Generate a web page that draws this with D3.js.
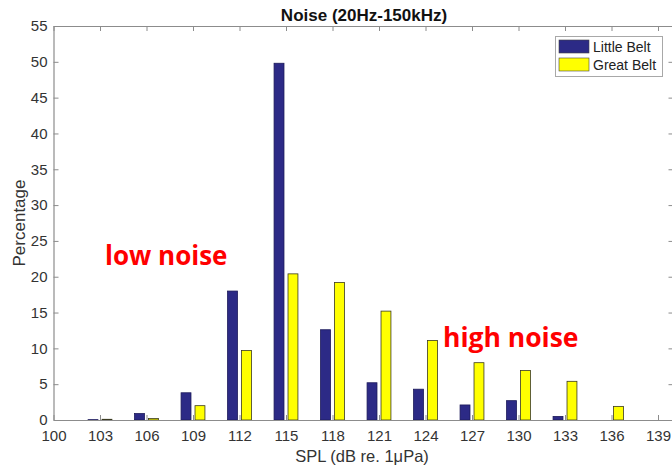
<!DOCTYPE html>
<html>
<head>
<meta charset="utf-8">
<script src="https://cdn.jsdelivr.net/npm/d3@7"></script>
<style>
  html, body { margin: 0; padding: 0; background: #fff; }
  svg { display: block; }
  text { font-family: "Liberation Sans", Arial, Helvetica, sans-serif; }
</style>
</head>
<body>
<svg id="chart" width="672" height="469"></svg>
<script>
// SPL bins (dB re. 1 µPa) and percentage of time in each bin
const splBins = [103, 106, 109, 112, 115, 118, 121, 124, 127, 130, 133, 136, 139];
const littleBelt = [0.05, 0.9, 3.8, 18.0, 49.8, 12.6, 5.2, 4.3, 2.1, 2.7, 0.5, 0, 0];
const greatBelt  = [0.1, 0.2, 2.0, 9.7, 20.4, 19.2, 15.2, 11.1, 8.0, 6.9, 5.4, 1.9, 0];
const seriesNames = ["Little Belt", "Great Belt"];
const seriesColors = ["#2c2a86", "#ffff00"];
const xTicks = [100, 103, 106, 109, 112, 115, 118, 121, 124, 127, 130, 133, 136, 139];
const yTicks = [0, 5, 10, 15, 20, 25, 30, 35, 40, 45, 50, 55];

const svg = d3.select("#chart");
const plotLeft = 53.5, plotRight = 673.5, plotTop = 26, plotBottom = 420;

const x = d3.scaleLinear().domain([100, 140]).range([plotLeft, plotRight]);
const y = d3.scaleLinear().domain([0, 55]).range([plotBottom, plotTop]);

const axisColor = "#8c8c8c";
const labelColor = "#333";

// bars: one pair per SPL bin, offsets in data units
const barOffsets = [[-0.77, -0.13], [0.13, 0.77]];
[littleBelt, greatBelt].forEach((vals, si) => {
  svg.append("g")
    .selectAll("rect")
    .data(splBins.map((b, i) => ({ b, v: vals[i] })))
    .join("rect")
    .attr("x", d => x(d.b + barOffsets[si][0]))
    .attr("width", d => x(d.b + barOffsets[si][1]) - x(d.b + barOffsets[si][0]))
    .attr("y", d => y(d.v))
    .attr("height", d => y(0) - y(d.v))
    .attr("fill", seriesColors[si])
    .attr("stroke", si === 0 ? "#1c1a5a" : "#3a3a20")
    .attr("stroke-width", 0.8);
});

// axes with inward ticks on all four sides
function styleAxis(g) {
  g.selectAll(".domain").attr("stroke", axisColor).attr("stroke-width", 1.2);
  g.selectAll(".tick line").attr("stroke", axisColor);
  g.selectAll(".tick text").attr("fill", labelColor).style("font-size", "15px");
}

svg.append("g")
  .attr("transform", `translate(0,${plotBottom})`)
  .call(d3.axisBottom(x).tickValues(xTicks).tickSizeInner(-5).tickSizeOuter(0).tickPadding(10.5))
  .call(styleAxis);

svg.append("g")
  .attr("transform", `translate(0,${plotTop})`)
  .call(d3.axisTop(x).tickValues(xTicks).tickSizeInner(-5).tickSizeOuter(0).tickFormat(""))
  .call(styleAxis);

svg.append("g")
  .attr("transform", `translate(${plotLeft},0)`)
  .call(d3.axisLeft(y).tickValues(yTicks).tickSizeInner(-5).tickSizeOuter(0).tickPadding(6))
  .call(styleAxis);

svg.append("g")
  .attr("transform", `translate(${plotRight},0)`)
  .call(d3.axisRight(y).tickValues(yTicks).tickSizeInner(-5).tickSizeOuter(0).tickFormat(""))
  .call(styleAxis);

// title and axis labels
svg.append("text")
  .attr("x", 364).attr("y", 21)
  .attr("text-anchor", "middle")
  .style("font-size", "17px").style("font-weight", "bold")
  .attr("fill", "#111")
  .text("Noise (20Hz-150kHz)");

svg.append("text")
  .attr("x", 362).attr("y", 462)
  .attr("text-anchor", "middle")
  .style("font-size", "16.5px")
  .attr("fill", labelColor)
  .text("SPL (dB re. 1\u03bcPa)");

svg.append("text")
  .attr("transform", `translate(25,${(plotTop + plotBottom) / 2}) rotate(-90)`)
  .attr("text-anchor", "middle")
  .style("font-size", "17px")
  .attr("fill", labelColor)
  .text("Percentage");

// legend
const legend = svg.append("g");
legend.append("rect")
  .attr("x", 555.5).attr("y", 36.5).attr("width", 107).attr("height", 40)
  .attr("fill", "#fff").attr("stroke", "#a8a8a8");
seriesNames.forEach((name, i) => {
  legend.append("rect")
    .attr("x", 559).attr("y", 40 + i * 18).attr("width", 30).attr("height", 13)
    .attr("fill", seriesColors[i]).attr("stroke", "#444").attr("stroke-width", 0.6);
  legend.append("text")
    .attr("x", 593).attr("y", 52 + i * 18)
    .style("font-size", "14px")
    .attr("fill", "#222")
    .text(name);
});

// annotations
svg.append("text")
  .attr("x", 105).attr("y", 265)
  .style("font-family", "'Open Sans', sans-serif")
  .style("font-size", "26px").style("font-weight", "bold")
  .attr("fill", "#ff0000")
  .text("low noise");

svg.append("text")
  .attr("x", 443).attr("y", 347)
  .style("font-family", "'Open Sans', sans-serif")
  .style("font-size", "26.5px").style("font-weight", "bold")
  .attr("fill", "#ff0000")
  .text("high noise");
</script>
</body>
</html>
